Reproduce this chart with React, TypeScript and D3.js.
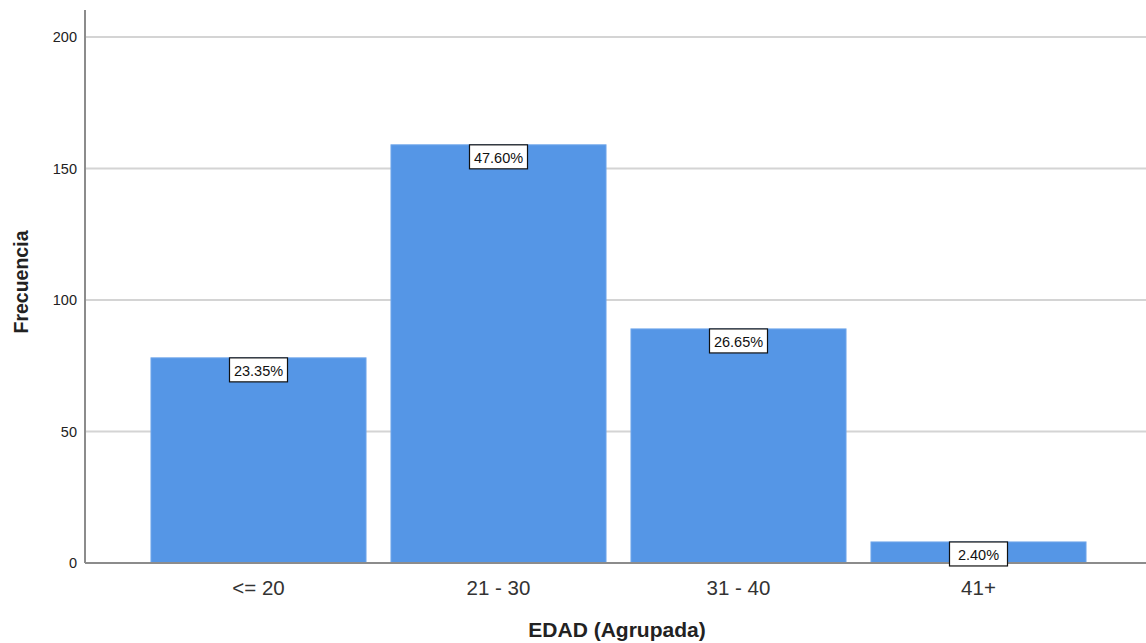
import React from "react";
import * as d3 from "d3";

const categories = ["<= 20", "21 - 30", "31 - 40", "41+"];
const counts = [78, 159, 89, 8];
const percentLabels = ["23.35%", "47.60%", "26.65%", "2.40%"];
const yTicks = [0, 50, 100, 150, 200];

const W = 1146;
const H = 643;
const axisX = 85;
const baseY = 563;
const topY = 10;

export default function App() {
  const y = d3.scaleLinear().domain([0, 200]).range([baseY, 37]);
  const x = d3
    .scaleBand<string>()
    .domain(categories)
    .range([138.5, 1098.5])
    .paddingInner(0.104)
    .paddingOuter(0.052);

  const font = "'Liberation Sans', Arial, sans-serif";

  return (
    <svg
      width={W}
      height={H}
      style={{ position: "absolute", left: 0, top: 0, background: "#fff" }}
      fontFamily={font}
    >
      {/* horizontal gridlines */}
      {yTicks
        .filter((t) => t > 0)
        .map((t) => (
          <line
            key={"g" + t}
            x1={axisX}
            x2={W}
            y1={y(t)}
            y2={y(t)}
            stroke="#d4d4d4"
            strokeWidth={2}
          />
        ))}

      {/* bars */}
      {categories.map((c, i) => (
        <rect
          key={c}
          x={x(c)}
          y={y(counts[i])}
          width={x.bandwidth()}
          height={baseY - y(counts[i])}
          fill="#5596e6"
          stroke="#6fa6ea"
          strokeWidth={1}
        />
      ))}

      {/* axes */}
      <line x1={axisX} x2={axisX} y1={topY} y2={baseY} stroke="#8c8c8c" strokeWidth={2} />
      <line x1={axisX} x2={W} y1={baseY} y2={baseY} stroke="#8c8c8c" strokeWidth={2} />

      {/* y tick labels */}
      {yTicks.map((t) => (
        <text
          key={"t" + t}
          x={77}
          y={y(t)}
          textAnchor="end"
          dominantBaseline="central"
          fontSize={14.5}
          fill="#222"
        >
          {t}
        </text>
      ))}

      {/* x tick labels */}
      {categories.map((c) => (
        <text
          key={"x" + c}
          x={(x(c) ?? 0) + x.bandwidth() / 2}
          y={587}
          textAnchor="middle"
          dominantBaseline="central"
          fontSize={20.5}
          fill="#333"
        >
          {c}
        </text>
      ))}

      {/* percentage labels */}
      {categories.map((c, i) => {
        const cx = (x(c) ?? 0) + x.bandwidth() / 2;
        const top = y(counts[i]);
        const bw = 58;
        const bh = 24;
        return (
          <g key={"p" + c}>
            <rect
              x={cx - bw / 2}
              y={top}
              width={bw}
              height={bh}
              fill="#fff"
              stroke="#111"
              strokeWidth={1.2}
            />
            <text
              x={cx}
              y={top + bh / 2 + 1}
              textAnchor="middle"
              dominantBaseline="central"
              fontSize={14.5}
              fill="#111"
            >
              {percentLabels[i]}
            </text>
          </g>
        );
      })}

      {/* axis titles */}
      <text
        x={617}
        y={629}
        textAnchor="middle"
        dominantBaseline="central"
        fontSize={21}
        fontWeight="bold"
        fill="#222"
      >
        EDAD (Agrupada)
      </text>
      <text
        transform={`translate(21, 282) rotate(-90)`}
        textAnchor="middle"
        dominantBaseline="central"
        fontSize={19.5}
        fontWeight="bold"
        fill="#222"
      >
        Frecuencia
      </text>
    </svg>
  );
}
